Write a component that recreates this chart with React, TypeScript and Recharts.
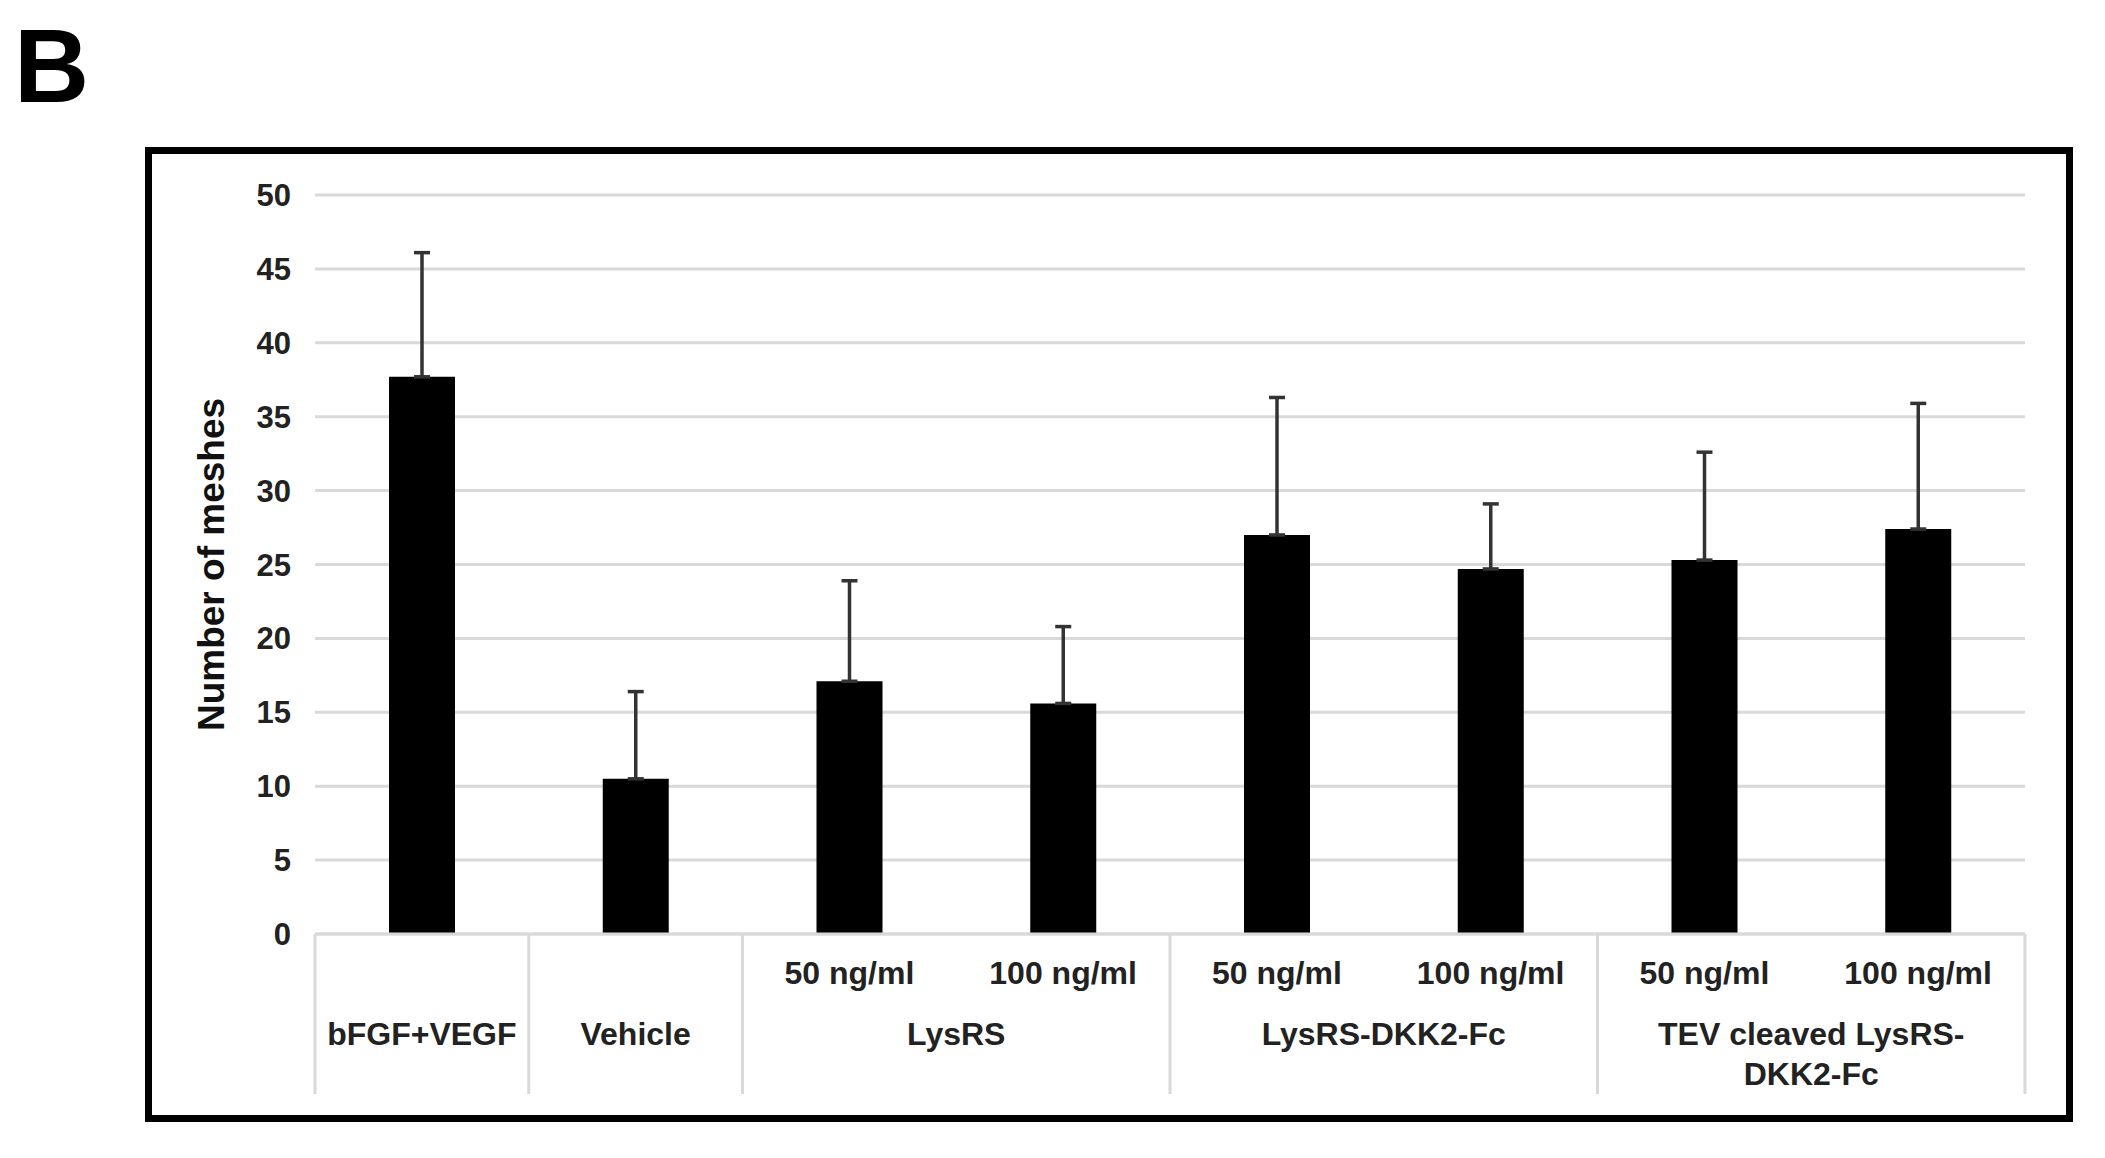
import React from 'react';
import { BarChart, Bar, XAxis, YAxis, CartesianGrid, ErrorBar, Label } from 'recharts';

// one bar per condition, top-only SD whiskers
const conditions = ['bFGF+VEGF', 'Vehicle', 'LysRS 50', 'LysRS 100', 'DKK2 50', 'DKK2 100', 'TEV 50', 'TEV 100'];
const doses = ['', '', '50 ng/ml', '100 ng/ml', '50 ng/ml', '100 ng/ml', '50 ng/ml', '100 ng/ml'];
const meshes = [37.7, 10.5, 17.1, 15.6, 27.0, 24.7, 25.3, 27.4];
const sd = [8.4, 5.9, 6.8, 5.2, 9.3, 4.4, 7.3, 8.5];

// group label lines, keyed by the index where the group starts, and how many bars it spans
const groupStart = [0, 1, 2, 4, 6];
const groupSpan = [1, 1, 2, 2, 2];
const groupLines = [['bFGF+VEGF'], ['Vehicle'], ['LysRS'], ['LysRS-DKK2-Fc'], ['TEV cleaved LysRS-', 'DKK2-Fc']];

const yTicks = [0, 5, 10, 15, 20, 25, 30, 35, 40, 45, 50];

const data = conditions.map((name, i) => ({ name, dose: doses[i], value: meshes[i], err: [0, sd[i]] }));

const FONT = '"Liberation Sans", Arial, sans-serif';
const SEP = '#d9d9d9';

function CategoryTick(props: any) {
    const { x, y, index, payload } = props;
    const half = payload && payload.offset ? payload.offset : 106.8;
    const g = groupStart.indexOf(index);
    const isLast = index === conditions.length - 1;
    return (
        <g>
            {doses[index] && (
                <text x={x} y={y + 39} textAnchor="middle" dominantBaseline="central"
                    fontFamily={FONT} fontWeight="bold" fontSize={32} fill="#222">
                    {doses[index]}
                </text>
            )}
            {g >= 0 && (
                <line x1={x - half} x2={x - half} y1={y} y2={y + 160} stroke={SEP} strokeWidth={3} />
            )}
            {isLast && (
                <line x1={x + half} x2={x + half} y1={y} y2={y + 160} stroke={SEP} strokeWidth={3} />
            )}
            {g >= 0 && groupLines[g].map((ln, k) => (
                <text key={k} x={x + (groupSpan[g] - 1) * half} y={y + 100 + k * 40}
                    textAnchor="middle" dominantBaseline="central"
                    fontFamily={FONT} fontWeight="bold" fontSize={32} fill="#222">
                    {ln}
                </text>
            ))}
        </g>
    );
}

export default function App() {
    return (
        <div style={{ position: 'absolute', left: 0, top: 0, width: 2105, height: 1158, background: '#fff' }}>
            <div style={{
                position: 'absolute', left: 14, top: 6, fontFamily: FONT, fontWeight: 'bold',
                fontSize: 104, lineHeight: '120px', color: '#000'
            }}>B</div>
            <div style={{
                position: 'absolute', left: 145, top: 147, width: 2073 - 145, height: 1122 - 147,
                border: '7px solid #000', boxSizing: 'border-box'
            }} />
            <div style={{ position: 'absolute', left: 0, top: 0 }}>
                <BarChart width={2105} height={1158} data={data}
                    margin={{ top: 195, right: 80, bottom: 0, left: 215 }}
                    barSize={66}>
                    <CartesianGrid vertical={false} stroke={SEP} strokeWidth={3} />
                    <XAxis dataKey="name" height={224} interval={0} tickLine={false} tickSize={0} tickMargin={0}
                        axisLine={{ stroke: SEP, strokeWidth: 3 }} tick={<CategoryTick />} />
                    <YAxis domain={[0, 50]} ticks={yTicks} width={100} axisLine={false} tickLine={false}
                        tickMargin={18} interval={0}
                        tick={{ fontFamily: FONT, fontWeight: 'bold', fontSize: 31, fill: '#222' }}>
                        <Label content={({ viewBox }: any) => {
                            const cx = viewBox.x - 4;
                            const cy = viewBox.y + viewBox.height / 2;
                            return (
                                <text x={cx} y={cy} transform={`rotate(-90 ${cx} ${cy})`} textAnchor="middle"
                                    dominantBaseline="central" fontFamily={FONT} fontWeight="bold" fontSize={37} fill="#111">
                                    Number of meshes
                                </text>
                            );
                        }} />
                    </YAxis>
                    <Bar dataKey="value" fill="#000" isAnimationActive={false}>
                        <ErrorBar dataKey="err" direction="y" width={8} stroke="#333" strokeWidth={3.5} isAnimationActive={false} />
                    </Bar>
                </BarChart>
            </div>
        </div>
    );
}
